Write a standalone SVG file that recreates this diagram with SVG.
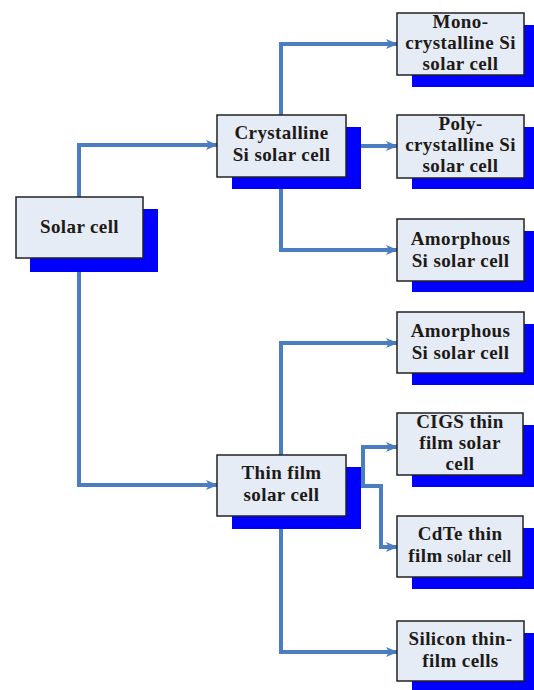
<svg xmlns="http://www.w3.org/2000/svg" width="534" height="690" viewBox="0 0 534 690">
<style>
.sh{fill:#0000ff}
.bx{fill:#e6ecf6;stroke:#222;stroke-width:1.5}
.t{font-family:"Liberation Serif","Times New Roman",serif;font-weight:bold;font-size:19px;letter-spacing:0.4px;fill:#1e1a16;text-anchor:middle}
.c{fill:none;stroke:#4b7dc1;stroke-width:4;marker-end:url(#ah)}
</style>
<defs>
<marker id="ah" markerUnits="userSpaceOnUse" markerWidth="12" markerHeight="12" viewBox="0 0 12 12" refX="11" refY="6" orient="auto">
<path d="M0,1 L12,6 L0,11 L3,6 Z" fill="#4b7dc1"/>
</marker>
</defs>
<rect width="534" height="690" fill="#fff"/>
<g id="connectors">
<path class="c" d="M79,199 V145 H217"/>
<path class="c" d="M79,256 V485 H217"/>
<path class="c" d="M281,117 V44 H397"/>
<path class="c" d="M344,146 H397"/>
<path class="c" d="M281,175 V250 H397"/>
<path class="c" d="M281,457 V343 H397"/>
<path class="c" d="M344,486 H381 V547 H397"/>
<path class="c" d="M363,486 V447 H397"/>
<path class="c" d="M281,514 V652 H397"/>
</g>
<g id="solar">
<rect class="sh" x="30" y="209" width="128" height="63"/>
<rect class="bx" x="16" y="197" width="127" height="61"/>
<text class="t" x="79.5" y="233">Solar cell</text>
</g>
<g id="crystalline">
<rect class="sh" x="232" y="127" width="129" height="62"/>
<rect class="bx" x="217" y="115" width="129" height="62"/>
<text class="t" x="281.5" y="139">Crystalline</text>
<text class="t" x="281.5" y="161">Si solar cell</text>
</g>
<g id="thinfilm">
<rect class="sh" x="232" y="467" width="129" height="62"/>
<rect class="bx" x="217" y="455" width="129" height="61"/>
<text class="t" x="281.5" y="479">Thin film</text>
<text class="t" x="281.5" y="501">solar cell</text>
</g>
<g id="mono">
<rect class="sh" x="412" y="25" width="127" height="62"/>
<rect class="bx" x="397" y="13" width="127" height="62"/>
<text class="t" x="460.5" y="28">Mono-</text>
<text class="t" x="460.5" y="49">crystalline Si</text>
<text class="t" x="460.5" y="70">solar cell</text>
</g>
<g id="poly">
<rect class="sh" x="412" y="127" width="127" height="62"/>
<rect class="bx" x="397" y="115" width="127" height="63"/>
<text class="t" x="460.5" y="130">Poly-</text>
<text class="t" x="460.5" y="151">crystalline Si</text>
<text class="t" x="460.5" y="172">solar cell</text>
</g>
<g id="amorphous1">
<rect class="sh" x="412" y="231" width="127" height="61"/>
<rect class="bx" x="397" y="219" width="127" height="62"/>
<text class="t" x="460.5" y="245">Amorphous</text>
<text class="t" x="460.5" y="267">Si solar cell</text>
</g>
<g id="amorphous2">
<rect class="sh" x="412" y="324" width="127" height="61"/>
<rect class="bx" x="397" y="312" width="127" height="61"/>
<text class="t" x="460.5" y="337">Amorphous</text>
<text class="t" x="460.5" y="359">Si solar cell</text>
</g>
<g id="cigs">
<rect class="sh" x="412" y="425" width="127" height="62"/>
<rect class="bx" x="397" y="413" width="126" height="62"/>
<text class="t" x="460" y="428">CIGS thin</text>
<text class="t" x="460" y="449">film solar</text>
<text class="t" x="460" y="470">cell</text>
</g>
<g id="cdte">
<rect class="sh" x="412" y="528" width="127" height="61"/>
<rect class="bx" x="397" y="516" width="126" height="61"/>
<text class="t" x="460" y="540">CdTe thin</text>
<text class="t" x="460" y="562">film<tspan font-size="16"> solar cell</tspan></text>
</g>
<g id="silicon">
<rect class="sh" x="412" y="633" width="127" height="60"/>
<rect class="bx" x="397" y="621" width="127" height="60"/>
<text class="t" x="460.5" y="645">Silicon thin-</text>
<text class="t" x="460.5" y="667">film cells</text>
</g>
</svg>
